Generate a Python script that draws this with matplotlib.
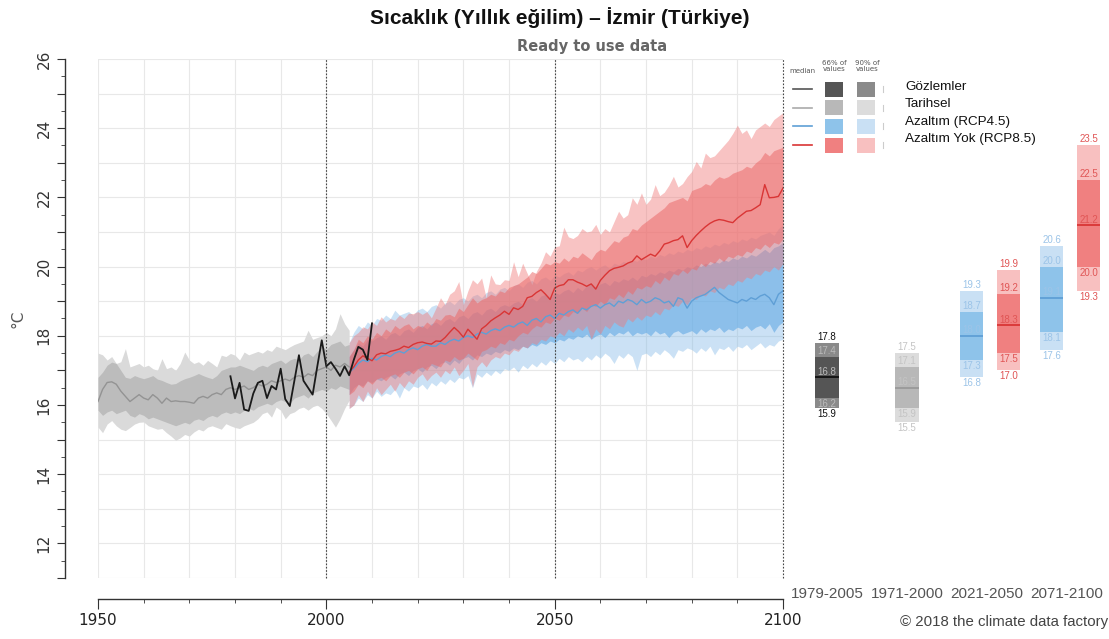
import numpy as np
import matplotlib
matplotlib.use("Agg")
import matplotlib.pyplot as plt
from matplotlib.patches import Rectangle
from matplotlib.lines import Line2D
from matplotlib.ticker import FuncFormatter

# ---- data ----
hist_years = np.arange(1950, 2006)
hist_med = [16.10, 16.45, 16.65, 16.67, 16.60, 16.40, 16.25, 16.10, 16.20, 16.30,
            16.20, 16.15, 16.30, 16.20, 16.05, 16.20, 16.10, 16.12, 16.10, 16.10,
            16.08, 16.05, 16.20, 16.25, 16.20, 16.30, 16.35, 16.30, 16.45, 16.50,
            16.45, 16.50, 16.55, 16.45, 16.50, 16.60, 16.55, 16.60, 16.70, 16.65,
            16.70, 16.75, 16.70, 16.80, 16.85, 16.80, 16.90, 16.85, 17.00, 17.05,
            17.10, 17.00, 17.15, 17.10, 17.20, 17.10]
hist_p83 = [16.80, 16.95, 17.15, 17.24, 17.20, 17.00, 16.80, 16.77, 16.85, 16.80,
            16.76, 16.80, 16.85, 16.75, 16.71, 16.65, 16.60, 16.62, 16.70, 16.76,
            16.80, 16.85, 16.91, 16.85, 16.80, 16.76, 16.85, 17.00, 17.05, 17.10,
            17.10, 17.15, 17.10, 17.05, 17.00, 17.10, 17.15, 17.10, 17.20, 17.25,
            17.30, 17.20, 17.30, 17.35, 17.30, 17.45, 17.50, 17.40, 17.55, 17.70,
            17.60, 17.75, 17.80, 17.85, 17.70, 17.75]
hist_p17 = [15.85, 15.70, 15.80, 15.85, 15.75, 15.80, 15.85, 15.70, 15.65, 15.75,
            15.70, 15.60, 15.65, 15.60, 15.55, 15.50, 15.45, 15.40, 15.45, 15.50,
            15.45, 15.56, 15.60, 15.55, 15.65, 15.70, 15.65, 15.75, 15.80, 15.75,
            15.80, 15.75, 15.85, 15.90, 15.85, 15.95, 16.00, 16.05, 16.00, 16.10,
            16.15, 16.10, 16.05, 16.20, 16.25, 16.30, 16.20, 16.35, 16.40, 16.45,
            16.40, 16.50, 16.45, 16.55, 16.50, 16.45]
hist_p95 = [17.50, 17.45, 17.30, 17.40, 17.20, 17.25, 17.63, 17.10, 17.15, 17.20,
            17.10, 17.15, 17.05, 17.00, 17.34, 17.05, 17.10, 17.00, 17.20, 17.53,
            17.30, 17.20, 17.25, 17.15, 17.29, 17.20, 17.10, 17.44, 17.40, 17.49,
            17.44, 17.30, 17.53, 17.45, 17.50, 17.55, 17.50, 17.60, 17.55, 17.70,
            17.65, 17.60, 17.68, 17.75, 17.80, 17.85, 18.16, 17.90, 17.95, 18.00,
            18.10, 18.00, 18.20, 18.64, 18.35, 18.16]
hist_p05 = [15.36, 15.20, 15.45, 15.55, 15.40, 15.30, 15.26, 15.35, 15.45, 15.50,
            15.51, 15.40, 15.35, 15.30, 15.32, 15.20, 15.10, 14.98, 15.05, 15.15,
            15.10, 15.22, 15.30, 15.25, 15.36, 15.40, 15.35, 15.30, 15.46, 15.40,
            15.35, 15.32, 15.40, 15.45, 15.50, 15.60, 15.75, 15.80, 15.65, 15.94,
            15.85, 15.60, 15.75, 15.80, 15.90, 15.94, 15.85, 15.95, 16.00, 15.90,
            15.75, 15.56, 15.36, 15.60, 15.90, 16.14]

obs_years = np.arange(1979, 2011)
obs_vals = [16.83, 16.19, 16.64, 15.87, 15.83, 16.33, 16.64, 16.70, 16.20, 16.55,
            16.45, 17.05, 16.17, 15.97, 16.70, 17.44, 16.70, 16.50, 16.30, 17.10,
            17.87, 17.12, 17.24, 17.05, 16.84, 17.12, 16.86, 17.30, 17.68, 17.60,
            17.30, 18.36]

proj_years = np.arange(2005, 2101)
rcp85_med = [16.95, 17.10, 17.30, 17.42, 17.35,
             17.28, 17.45, 17.50, 17.48, 17.55, 17.58, 17.62, 17.70, 17.66, 17.75,
             17.80, 17.82, 17.78, 17.76, 17.85, 17.84, 17.95, 18.10, 18.24, 18.12,
             17.96, 18.19, 18.05, 17.90, 18.20, 18.30, 18.43, 18.52, 18.60, 18.71,
             18.62, 18.81, 18.76, 18.85, 19.10, 19.14, 19.25, 19.33, 19.20, 19.05,
             19.38, 19.45, 19.48, 19.62, 19.62, 19.55, 19.50, 19.43, 19.50, 19.35,
             19.60, 19.75, 19.88, 19.95, 19.98, 20.02, 20.10, 20.15, 20.31, 20.20,
             20.28, 20.36, 20.30, 20.45, 20.65, 20.69, 20.75, 20.78, 20.89, 20.55,
             20.75, 20.90, 21.03, 21.15, 21.25, 21.32, 21.36, 21.34, 21.30, 21.27,
             21.40, 21.50, 21.60, 21.62, 21.70, 21.79, 22.37, 21.99, 22.00, 22.03,
             22.27]
rcp85_p83 = [17.40, 17.60, 17.90, 17.80, 18.00,
             17.90, 18.10, 18.00, 18.20, 18.10, 18.30, 18.20, 18.30, 18.35, 18.20,
             18.30, 18.25, 18.40, 18.30, 18.50, 18.45, 18.60, 18.62, 18.55, 18.80,
             18.70, 18.90, 19.10, 18.95, 19.05, 19.10, 19.20, 19.15, 19.30, 19.25,
             19.40, 19.45, 19.50, 19.60, 19.70, 19.86, 19.80, 19.95, 20.10, 20.05,
             20.14, 20.10, 20.25, 20.15, 20.30, 20.25, 20.40, 20.30, 20.20, 20.40,
             20.50, 20.45, 20.60, 20.75, 20.70, 20.85, 20.90, 21.10, 21.05, 21.20,
             21.30, 21.40, 21.50, 21.60, 21.70, 21.85, 21.90, 21.95, 22.00, 21.90,
             22.20, 22.25, 22.30, 22.40, 22.35, 22.50, 22.60, 22.55, 22.60, 22.70,
             22.75, 22.80, 22.90, 22.85, 23.00, 23.10, 23.30, 23.20, 23.35, 23.40,
             23.45]
rcp85_p17 = [16.30, 16.40, 16.60, 16.50, 16.70,
             16.60, 16.75, 16.80, 16.70, 16.85, 16.90, 16.80, 16.95, 17.00, 16.90,
             17.05, 17.10, 17.00, 17.20, 17.15, 17.10, 17.30, 17.25, 17.40, 17.30,
             17.35, 17.50, 17.40, 17.30, 17.55, 17.60, 17.70, 17.65, 17.80, 17.75,
             17.90, 17.85, 18.00, 18.10, 18.05, 18.20, 18.30, 18.25, 18.40, 18.35,
             18.50, 18.45, 18.60, 18.55, 18.70, 18.65, 18.80, 18.70, 18.90, 18.85,
             19.00, 18.90, 19.10, 19.05, 19.20, 19.10, 19.30, 19.20, 19.40, 19.35,
             19.45, 19.40, 19.60, 19.50, 19.70, 19.60, 19.80, 19.75, 19.90, 19.80,
             19.95, 19.90, 20.10, 20.00, 20.15, 20.10, 20.25, 20.15, 20.30, 20.25,
             20.35, 20.30, 20.45, 20.40, 20.55, 20.50, 20.65, 20.55, 20.70, 20.65,
             20.80]
rcp85_p95 = [17.80, 18.00, 18.10, 18.26, 18.20,
             18.40, 18.30, 18.55, 18.40, 18.50, 18.45, 18.60, 18.50, 18.65, 18.64,
             18.70, 18.62, 18.70, 18.52, 18.80, 19.10, 18.90, 19.20, 19.30, 19.57,
             18.90, 19.30, 19.62, 19.50, 19.67, 19.10, 19.76, 19.50, 19.48, 19.62,
             19.60, 20.14, 19.71, 20.10, 19.80, 19.48, 19.86, 20.10, 20.43, 20.30,
             20.57, 20.60, 21.14, 20.86, 20.81, 20.90, 21.10, 21.00, 21.03, 21.22,
             20.93, 21.10, 21.00, 21.30, 21.60, 21.40, 21.50, 21.99, 21.80, 22.13,
             21.80, 21.95, 22.37, 22.05, 22.15, 22.35, 22.61, 22.30, 22.40, 22.60,
             22.75, 23.04, 22.85, 23.28, 23.15, 23.20, 23.35, 23.50, 23.65, 23.85,
             24.09, 23.85, 23.95, 23.70, 23.95, 24.05, 24.15, 24.05, 24.25, 24.35,
             24.45]
rcp85_p05 = [15.90, 16.00, 16.30, 16.10, 16.40,
             16.20, 16.50, 16.30, 16.45, 16.60, 16.40, 16.65, 16.50, 16.70, 16.60,
             16.80, 16.90, 16.70, 16.85, 16.95, 16.80, 17.00, 16.90, 17.10, 16.85,
             17.00, 17.20, 16.52, 17.10, 17.25, 17.10, 17.30, 17.40, 17.35, 17.50,
             17.45, 17.60, 17.55, 17.70, 17.65, 17.80, 17.75, 17.90, 17.85, 18.00,
             17.95, 18.10, 18.00, 18.20, 18.10, 18.25, 18.15, 18.30, 17.90, 18.20,
             18.05, 18.30, 18.20, 18.40, 18.30, 18.25, 18.50, 18.40, 18.55, 18.45,
             18.60, 18.55, 18.70, 18.60, 18.80, 18.75, 18.90, 18.85, 19.00, 18.90,
             19.10, 19.05, 19.20, 19.15, 19.30, 19.25, 19.40, 19.35, 19.50, 19.45,
             19.60, 19.55, 19.70, 19.65, 19.80, 19.75, 19.90, 19.85, 20.00, 19.90,
             20.10]

rcp45_med = [16.95, 17.05, 17.20, 17.30, 17.25,
             17.35, 17.30, 17.40, 17.45, 17.40, 17.50, 17.55, 17.50, 17.60, 17.65,
             17.60, 17.70, 17.75, 17.70, 17.70, 17.80, 17.75, 17.85, 17.90, 17.85,
             17.95, 18.00, 17.95, 18.05, 18.10, 18.05, 18.15, 18.20, 18.15, 18.25,
             18.30, 18.25, 18.35, 18.40, 18.30, 18.45, 18.50, 18.40, 18.55, 18.60,
             18.50, 18.65, 18.60, 18.70, 18.75, 18.65, 18.80, 18.75, 18.85, 18.90,
             18.80, 18.90, 18.95, 18.85, 19.00, 18.95, 19.05, 19.00, 18.90, 19.05,
             18.95, 19.00, 19.10, 19.05, 18.95, 19.00, 18.85, 19.10, 19.05, 18.80,
             19.00, 19.10, 19.15, 19.20, 19.30, 19.40, 19.25, 19.15, 19.05, 19.00,
             18.95, 19.05, 19.00, 19.10, 19.05, 19.15, 19.20, 19.10, 18.90, 19.20,
             19.30]
rcp45_p83 = [17.40, 17.60, 17.80, 17.70, 17.90,
             17.85, 17.95, 18.00, 17.90, 18.05, 18.10, 18.00, 18.15, 18.20, 18.10,
             18.25, 18.30, 18.20, 18.35, 18.40, 18.30, 18.45, 18.50, 18.40, 18.55,
             18.60, 18.50, 18.65, 18.70, 18.60, 18.75, 18.80, 18.70, 18.85, 18.90,
             18.85, 18.95, 19.00, 18.90, 19.05, 19.10, 19.00, 19.15, 19.20, 19.10,
             19.25, 19.20, 19.30, 19.35, 19.25, 19.40, 19.30, 19.45, 19.50, 19.40,
             19.50, 19.55, 19.45, 19.60, 19.55, 19.65, 19.60, 19.70, 19.60, 19.75,
             19.70, 19.80, 19.75, 19.85, 19.80, 19.90, 19.85, 19.95, 19.90, 20.00,
             19.95, 20.05, 20.00, 20.10, 20.05, 20.15, 20.10, 20.20, 20.15, 20.25,
             20.20, 20.30, 20.25, 20.35, 20.30, 20.40, 20.50, 20.40, 20.55, 20.60,
             20.70]
rcp45_p17 = [16.30, 16.50, 16.60, 16.55, 16.70,
             16.65, 16.75, 16.70, 16.80, 16.85, 16.75, 16.90, 16.95, 16.85, 17.00,
             17.05, 16.95, 17.10, 17.15, 17.05, 17.20, 17.25, 17.15, 17.30, 17.20,
             17.35, 17.40, 17.30, 17.45, 17.40, 17.50, 17.45, 17.55, 17.50, 17.60,
             17.55, 17.65, 17.60, 17.70, 17.65, 17.75, 17.70, 17.80, 17.75, 17.85,
             17.80, 17.90, 17.85, 17.95, 17.90, 18.00, 17.95, 18.05, 17.90, 18.00,
             18.05, 17.95, 18.10, 18.00, 18.10, 18.05, 18.15, 18.00, 18.10, 18.05,
             18.10, 18.00, 18.15, 18.05, 18.10, 17.95, 18.10, 18.15, 18.05, 18.10,
             18.15, 18.05, 18.20, 18.10, 18.20, 18.15, 18.25, 18.10, 18.20, 18.15,
             18.25, 18.20, 18.30, 18.15, 18.25, 18.30, 18.20, 18.35, 18.10, 18.30,
             18.40]
rcp45_p95 = [17.80, 18.10, 18.30, 18.20, 18.40,
             18.30, 18.50, 18.45, 18.60, 18.50, 18.74, 18.60, 18.65, 18.70, 18.60,
             18.75, 18.80, 18.70, 18.85, 18.90, 18.80, 18.95, 19.00, 18.90, 19.05,
             19.10, 19.00, 19.15, 19.20, 19.10, 19.25, 19.30, 19.20, 19.35, 19.40,
             19.30, 19.45, 19.50, 19.40, 19.55, 19.60, 19.50, 19.65, 19.70, 19.60,
             19.75, 19.70, 19.80, 19.85, 19.75, 19.90, 19.85, 19.95, 20.00, 19.90,
             20.00, 20.05, 19.95, 20.10, 20.05, 20.15, 20.10, 20.20, 20.15, 20.25,
             20.20, 20.30, 20.25, 20.35, 20.30, 20.40, 20.35, 20.45, 20.40, 20.50,
             20.45, 20.55, 20.50, 20.60, 20.55, 20.65, 20.60, 20.70, 20.65, 20.75,
             20.70, 20.80, 20.75, 20.85, 20.80, 20.90, 20.95, 21.00, 20.90, 21.10,
             21.20]
rcp45_p05 = [15.90, 16.00, 16.20, 16.10, 16.30,
             16.20, 16.40, 16.25, 16.35, 16.30, 16.45, 16.20, 16.50, 16.40, 16.55,
             16.50, 16.60, 16.45, 16.65, 16.55, 16.70, 16.60, 16.75, 16.65, 16.80,
             16.75, 16.85, 16.50, 16.90, 16.80, 16.95, 16.85, 17.00, 16.90, 17.05,
             17.00, 17.10, 16.95, 17.15, 17.05, 17.20, 17.10, 17.25, 17.15, 17.30,
             17.20, 17.35, 17.25, 17.40, 17.30, 17.35, 17.25, 17.40, 17.30, 17.45,
             17.35, 17.50, 17.40, 17.20, 17.45, 17.35, 17.50, 17.40, 17.00, 17.45,
             17.50, 17.40, 17.55, 17.45, 17.60, 17.50, 17.35, 17.60, 17.55, 17.65,
             17.60, 17.50, 17.65, 17.55, 17.70, 17.45, 17.65, 17.60, 17.70, 17.55,
             17.70, 17.65, 17.75, 17.60, 17.70, 17.80, 17.65, 17.75, 17.70, 17.85,
             17.90]

# right-hand summary boxes: (p05, p17, median, p83, p95)
periods = ["1979-2005", "1971-2000", "2021-2050", "2071-2100"]
box_obs = [15.9, 16.2, 16.8, 17.4, 17.8]
box_hist = [15.5, 15.9, 16.5, 17.1, 17.5]
box_rcp45_2050 = [16.8, 17.3, 18.0, 18.7, 19.3]
box_rcp85_2050 = [17.0, 17.5, 18.3, 19.2, 19.9]
box_rcp45_2100 = [17.6, 18.1, 19.1, 20.0, 20.6]
box_rcp85_2100 = [19.3, 20.0, 21.2, 22.5, 23.5]

legend_names = ["Gözlemler", "Tarihsel", "Azaltım (RCP4.5)", "Azaltım Yok (RCP8.5)"]

# colours
c_obs66, c_obs90 = "#555555", "#8a8a8a"
c_h66, c_h90 = "#b8b8b8", "#dcdcdc"
c_b66, c_b90 = "#8ec3ea", "#c9e0f4"
c_r66, c_r90 = "#f08080", "#f8c0c0"

W, H = 1109, 639
fig = plt.figure(figsize=(W / 100, H / 100), dpi=100)

# ---- main time series panel ----
ax = fig.add_axes([98 / W, 61 / H, 685 / W, 519 / H])
ax.set_xlim(1950, 2100)
ax.set_ylim(11, 26)

for x in np.arange(1950, 2101, 10):
    ax.axvline(x, color="#e8e8e8", lw=0.8, zorder=0)
for y in np.arange(11, 27, 1):
    ax.axhline(y, color="#e8e8e8", lw=0.8, zorder=0)

ax.fill_between(hist_years, hist_p05, hist_p95, color="#dadada", lw=0)
ax.fill_between(hist_years, hist_p17, hist_p83, color="#bcbcbc", lw=0)
ax.plot(hist_years, hist_med, color="#939393", lw=1)

ax.fill_between(proj_years, rcp45_p05, rcp45_p95, color="#7db6e6", alpha=0.4, lw=0)
ax.fill_between(proj_years, rcp45_p17, rcp45_p83, color="#62a9e4", alpha=0.6, lw=0)
ax.fill_between(proj_years, rcp85_p05, rcp85_p95, color="#f07a7a", alpha=0.45, lw=0)
ax.fill_between(proj_years, rcp85_p17, rcp85_p83, color="#eb6a6a", alpha=0.55, lw=0)
ax.plot(proj_years, rcp45_med, color="#5f9fd6", lw=1)
ax.plot(proj_years, rcp85_med, color="#d93535", lw=1)

ax.plot(obs_years, obs_vals, color="#1a1a1a", lw=1.3)

for yr in (2000, 2050, 2100):
    ax.axvline(yr, color="#444444", ls=(0, (1.5, 1.5)), lw=0.8, clip_on=False)

ax.set_xticks(np.arange(1950, 2101, 10), minor=True)
ax.set_xticks([1950, 2000, 2050, 2100])
ax.set_yticks(np.arange(11, 27, 1))
ax.set_yticks(np.arange(11, 26.5, 0.5), minor=True)
ax.yaxis.set_major_formatter(FuncFormatter(lambda v, p: f"{v:.0f}" if v % 2 == 0 else ""))

for s in ("top", "right"):
    ax.spines[s].set_visible(False)
ax.spines["left"].set_position(("outward", 24))
ax.spines["bottom"].set_position(("outward", 15))
ax.spines["left"].set_bounds(11, 26)
ax.spines["bottom"].set_bounds(1950, 2100)
for s in ("left", "bottom"):
    ax.spines[s].set_color("#333333")
    ax.spines[s].set_linewidth(1)
ax.tick_params(axis="y", which="major", length=6, color="#333333", labelsize=11,
               labelcolor="#333333", labelrotation=90)
ax.tick_params(axis="y", which="minor", length=3, color="#333333")
ax.tick_params(axis="x", which="major", length=7, color="#333333", labelsize=11,
               labelcolor="#222222")
ax.tick_params(axis="x", which="minor", length=3, color="#333333")
for lab in ax.get_yticklabels():
    lab.set_va("center")
ax.set_ylabel("°C", fontsize=11, color="#555555", labelpad=8)

# ---- right summary panel ----
ax2 = fig.add_axes([787 / W, 61 / H, 320 / W, 519 / H])
ax2.set_xlim(-0.5, 3.5)
ax2.set_ylim(11, 26)
ax2.axis("off")

bw = 0.29
boxes = [
    (0.0, box_obs, c_obs90, c_obs66, "#111111", ["#111111", "#bbbbbb", "#bbbbbb", "#bbbbbb", "#111111"]),
    (1.0, box_hist, c_h90, c_h66, "#9a9a9a", ["#c4c4c4"] * 5),
    (1.81, box_rcp45_2050, c_b90, c_b66, "#5f9fd6", ["#9cc4e8"] * 5),
    (2.27, box_rcp85_2050, c_r90, c_r66, "#d93535", ["#e05555"] * 5),
    (2.81, box_rcp45_2100, c_b90, c_b66, "#5f9fd6", ["#9cc4e8"] * 5),
    (3.27, box_rcp85_2100, c_r90, c_r66, "#d93535", ["#e05555"] * 5),
]
for xc, st, c90, c66, cmed, tcols in boxes:
    p05, p17, med, p83, p95 = st
    ax2.bar(xc, p95 - p05, bottom=p05, width=bw, color=c90, lw=0)
    ax2.bar(xc, p83 - p17, bottom=p17, width=bw, color=c66, lw=0)
    ax2.hlines(med, xc - bw / 2, xc + bw / 2, color=cmed, lw=1.3)
    kw = dict(ha="center", fontsize=7, family="Liberation Sans")
    ax2.text(xc, p95 + 0.03, f"{p95:.1f}", va="bottom", color=tcols[4], **kw)
    ax2.text(xc, p83 + 0.03, f"{p83:.1f}", va="bottom", color=tcols[3], **kw)
    ax2.text(xc, med + 0.01, f"{med:.1f}", va="bottom", color=tcols[2], **kw)
    ax2.text(xc, p17 - 0.03, f"{p17:.1f}", va="top", color=tcols[1], **kw)
    ax2.text(xc, p05 - 0.03, f"{p05:.1f}", va="top", color=tcols[0], **kw)

for i, p in enumerate(periods):
    ax2.text(i, 10.55, p, ha="center", va="center", fontsize=11,
             color="#555555", family="Liberation Sans")

# ---- overlay for titles / legend ----
ov = fig.add_axes([0, 0, 1, 1], facecolor="none")
ov.set_xlim(0, W)
ov.set_ylim(H, 0)
ov.axis("off")

ov.text(560, 18, "Sıcaklık (Yıllık eğilim) – İzmir (Türkiye)", ha="center", va="center",
        fontsize=15, fontweight="bold", family="Liberation Sans", color="#111111")
ov.text(592, 46, "Ready to use data", ha="center", va="center", fontsize=10.5,
        fontweight="bold", color="#666666", family="DejaVu Sans")
ov.text(1004, 622, "© 2018 the climate data factory", ha="center", va="center",
        fontsize=10.8, color="#444444", family="Liberation Sans")

ov.text(802, 71, "median", ha="center", va="center", fontsize=5, color="#555555")
ov.text(834, 66, "66% of\nvalues", ha="center", va="center", fontsize=5, color="#555555",
        linespacing=1.1)
ov.text(867, 66, "90% of\nvalues", ha="center", va="center", fontsize=5, color="#555555",
        linespacing=1.1)
leg_rows = [
    ("#555555", c_obs66, c_obs90),
    ("#aaaaaa", c_h66, c_h90),
    ("#5f9fd6", c_b66, c_b90),
    ("#d93535", c_r66, c_r90),
]
for k, (lc, c66, c90) in enumerate(leg_rows):
    yc = 89 + k * 18.7
    ov.add_line(Line2D([793, 812], [yc, yc], color=lc, lw=1.2))
    ov.add_patch(Rectangle((825, yc - 7.5), 18, 15, color=c66, lw=0))
    ov.add_patch(Rectangle((857, yc - 7.5), 18, 15, color=c90, lw=0))
    ov.add_line(Line2D([883, 883], [yc - 3, yc + 3], color="#cccccc", lw=0.8))
    ov.text(905, 87 + k * 17.3, legend_names[k], ha="left", va="center", fontsize=9.7,
            family="Liberation Sans", color="#111111")

fig.savefig("out.png", dpi=100)
